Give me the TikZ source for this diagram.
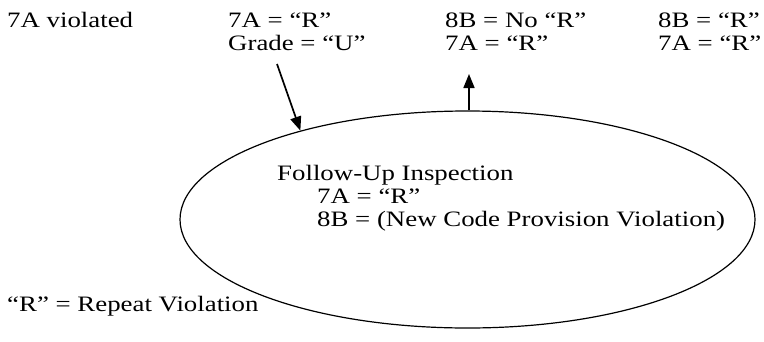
\documentclass[tikz,border=0pt]{standalone}
\usepackage{fontspec}
\setmainfont{Liberation Serif}[FakeStretch=1.22]
\usetikzlibrary{arrows.meta,shapes.geometric}
\tikzset{
  lbl/.style={anchor=base west, inner sep=0pt, font=\fontsize{22}{26}\selectfont},
  arr/.style={line width=1.7pt, -{Triangle[length=14pt,width=11pt]}},
  oval/.style={ellipse, draw, line width=1.2pt, inner sep=0pt, minimum width=575pt, minimum height=217pt}
}
\begin{document}
\begin{tikzpicture}[x=1pt,y=-1pt]
\useasboundingbox (0,0) rectangle (764,341);
\node[oval] (E) at (467.5,219.5) {};
\node[lbl] (t1) at (7,27) {7A violated};
\node[lbl] (t2) at (228,27) {7A = “R”};
\node[lbl] (t3) at (228,50) {Grade = “U”};
\node[lbl] (t4) at (445,27) {8B = No “R”};
\node[lbl] (t5) at (445,50) {7A = “R”};
\node[lbl] (t6) at (658,27) {8B = “R”};
\node[lbl] (t7) at (658,50) {7A = “R”};
\node[lbl] (f1) at (277,180) {Follow-Up Inspection};
\node[lbl] (f2) at (317,203) {7A = “R”};
\node[lbl] (f3) at (317,226) {8B = (New Code Provision Violation)};
\node[lbl] (lg) at (7,311) {“R” = Repeat Violation};
\coordinate (a1) at (277,64);
\coordinate (a2) at (469,74);
\draw[arr] (a1) -- (E.152);
\draw[arr] (E.north -| a2) -- (a2);
\end{tikzpicture}
\end{document}
